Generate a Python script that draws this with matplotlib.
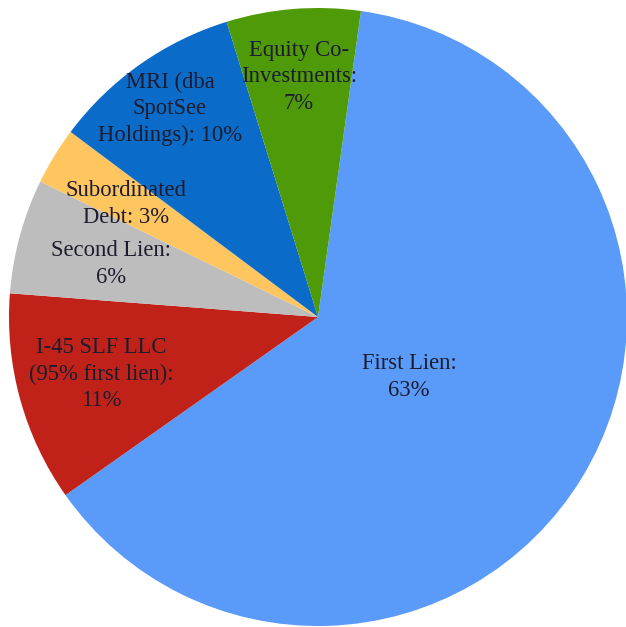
import matplotlib
matplotlib.use("Agg")
import matplotlib.pyplot as plt

# Portfolio composition by investment type
categories = [
    "First Lien",
    "I-45 SLF LLC\n(95% first lien)",
    "Second Lien",
    "Subordinated\nDebt",
    "MRI (dba\nSpotSee\nHoldings)",
    "Equity Co-\nInvestments",
]
shares = [63, 11, 6, 3, 10, 7]

colors = ["#5A9AF9", "#C0221A", "#BDBDBD", "#FFC55E", "#0B6BC8", "#4F9A08"]

# Label text as laid out inside each wedge
label_texts = [
    "First Lien:\n63%",
    "I-45 SLF LLC\n(95% first lien):\n11%",
    "Second Lien:\n6%",
    "Subordinated\nDebt: 3%",
    "MRI (dba\nSpotSee\nHoldings): 10%",
    "Equity Co-\nInvestments:\n7%",
]
# Label centres in pixel coordinates of the canvas
label_px = [(409, 377), (101, 374), (111, 264), (126, 204), (170, 109), (299, 77)]

W, H = 626, 627
CX, CY, R = 318, 317, 309

fig = plt.figure(figsize=(W / 100, H / 100), dpi=100)
ax = fig.add_axes([0, 0, 1, 1])
ax.pie(shares, colors=colors, startangle=82, counterclock=False,
       radius=1.0, wedgeprops=dict(linewidth=0))
ax.set_xlim(-CX / R, (W - CX) / R)
ax.set_ylim(-(H - CY) / R, CY / R)
ax.set_aspect("auto")
ax.axis("off")

for txt, (px, py) in zip(label_texts, label_px):
    ax.text((px - CX) / R, (CY - py) / R, txt, ha="center", va="center",
            fontsize=16.3, family="Liberation Serif", color="#1c1c2e",
            linespacing=1.35)

fig.savefig("out.png", dpi=100)
